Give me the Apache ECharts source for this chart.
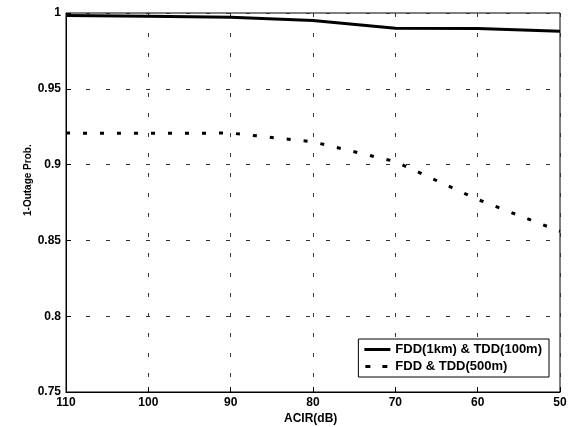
<!DOCTYPE html>
<html>
<head>
<meta charset="utf-8">
<script src="https://cdn.jsdelivr.net/npm/echarts@6/dist/echarts.min.js"></script>
<style>html,body{margin:0;padding:0;background:#fff}#c{width:571px;height:427px}</style>
</head>
<body>
<div id="c"></div>
<script>
const acir = [110, 100, 90, 80, 70, 60, 50];
const fdd1km = [0.9983, 0.9979, 0.9972, 0.9950, 0.9900, 0.9897, 0.9880];
const fdd500m = [0.9208, 0.9206, 0.9208, 0.9150, 0.9020, 0.8770, 0.8560];
const yTicks = [0.75, 0.8, 0.85, 0.9, 0.95, 1];
const xTicks = [110, 100, 90, 80, 70, 60, 50];
const seriesNames = ['FDD(1km) & TDD(100m)', 'FDD & TDD(500m)'];
const xName = 'ACIR(dB)';
const yName = '1-Outage Prob.';

const font = 'Liberation Sans, Arial, Helvetica, sans-serif';
const chart = echarts.init(document.getElementById('c'));
const gridStyle = { show: true, lineStyle: { color: '#333', width: 1, type: [4, 16] } };
chart.setOption({
  animation: false,
  backgroundColor: '#fff',
  grid: { left: 66, right: 11, top: 13, bottom: 35, show: true, borderColor: '#000', borderWidth: 1 },
  xAxis: {
    type: 'value', inverse: true, min: 50, max: 110, interval: 10,
    axisLine: { show: true, lineStyle: { color: '#000', width: 1 } },
    axisTick: { show: true, inside: true, length: 5, lineStyle: { color: '#000' } },
    axisLabel: { color: '#000', fontFamily: font, fontWeight: 'bold', fontSize: 12, margin: 5 },
    splitLine: gridStyle
  },
  yAxis: {
    type: 'value', min: 0.75, max: 1, interval: 0.05,
    axisLine: { show: true, lineStyle: { color: '#000', width: 1 } },
    axisTick: { show: true, inside: true, length: 5, lineStyle: { color: '#000' } },
    axisLabel: { color: '#000', fontFamily: font, fontWeight: 'bold', fontSize: 12, margin: 5,
      formatter: v => String(Math.round(v * 100) / 100) },
    splitLine: gridStyle
  },
  legend: {
    orient: 'vertical', right: 22, bottom: 50,
    backgroundColor: '#fff', borderColor: '#000', borderWidth: 1,
    padding: [4, 7, 4, 6], itemGap: 4, itemWidth: 26, itemHeight: 3,
    textStyle: { color: '#000', fontFamily: font, fontWeight: 'bold', fontSize: 13, padding: [0, 0, 0, 0] },
    data: [
      { name: seriesNames[0], icon: 'path://M0,0h26v3h-26z' },
      { name: seriesNames[1], icon: 'path://M1,0h5v3h-5zM18,0h5v3h-5zM0,0h0.01v0.01h-0.01zM26,0h0.01v0.01h-0.01z' }
    ]
  },
  graphic: [
    { type: 'text', left: 284, top: 413, style: { text: xName, fill: '#000', font: 'bold 12px ' + font } },
    { type: 'text', x: 23, y: 216, rotation: Math.PI / 2, style: { text: yName, fill: '#000', font: 'bold 10px ' + font } }
  ],
  series: [
    { name: seriesNames[0], type: 'line', symbol: 'none', data: acir.map((x, i) => [x, fdd1km[i]]),
      lineStyle: { color: '#000', width: 3, type: 'solid' }, itemStyle: { color: '#000' } },
    { name: seriesNames[1], type: 'line', symbol: 'none', data: acir.map((x, i) => [x, fdd500m[i]]),
      lineStyle: { color: '#000', width: 3, type: [4, 13] }, itemStyle: { color: '#000' } }
  ]
});
</script>
</body>
</html>
